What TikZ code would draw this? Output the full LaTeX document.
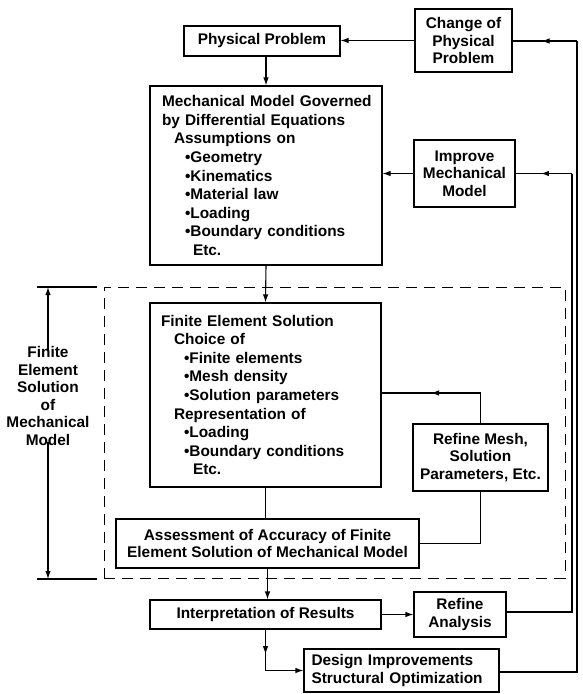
\documentclass[tikz,border=0pt]{standalone}
\usepackage{fontspec}
\setmainfont{Liberation Sans}
\usetikzlibrary{arrows.meta,decorations.markings}
\tikzset{
  box/.style={draw, line width=1.1pt, inner sep=0pt, align=center, font=\fontsize{15.4}{17.5}\selectfont\bfseries},
  bigbox/.style={box, align=left, font=\fontsize{15.4}{18.6}\selectfont\bfseries},
  conn/.style={line width=1.1pt},
  arr/.style={conn, -{Latex[length=8pt,width=5.5pt]}},
  midarr/.style={conn, postaction={decorate}, decoration={markings, mark=at position #1 with {\arrow{Latex[length=8pt,width=5.5pt]}}}},
  dbox/.style={draw, line width=1pt, dash pattern=on 11pt off 7pt, inner sep=0pt},
}
\begin{document}
\begin{tikzpicture}[x=1pt,y=-1pt]
\useasboundingbox (0,0) rectangle (583,694);
% boxes
\node[box, minimum width=156, minimum height=30] (phys) at (262,41) {Physical Problem};
\node[box, minimum width=97, minimum height=63] (chg) at (463.5,40.5) {Change of\\Physical\\Problem};
\node[bigbox, minimum width=232, minimum height=179, text width=208] (mech) at (266,175.5) {\mbox{Mechanical Model Governed}\\\mbox{by Differential Equations}\\\hspace*{12pt}Assumptions on\\\hspace*{23pt}•Geometry\\\hspace*{23pt}•Kinematics\\\hspace*{23pt}•Material law\\\hspace*{23pt}•Loading\\\hspace*{23pt}\mbox{•Boundary conditions}\\\hspace*{31pt}Etc.};
\node[box, minimum width=101, minimum height=67] (imp) at (464.5,173.5) {Improve\\Mechanical\\Model};
\node[dbox, minimum width=461, minimum height=291] (fem) at (334.5,432.5) {};
\node[bigbox, minimum width=231, minimum height=184, text width=209] (fe) at (265.5,395) {\mbox{Finite Element Solution}\\\hspace*{13pt}Choice of\\\hspace*{23pt}•Finite elements\\\hspace*{23pt}•Mesh density\\\hspace*{23pt}\mbox{•Solution parameters}\\\hspace*{13pt}Representation of\\\hspace*{23pt}•Loading\\\hspace*{23pt}\mbox{•Boundary conditions}\\\hspace*{32pt}Etc.};
\node[box, minimum width=135, minimum height=67] (rm) at (480.5,457.5) {Refine Mesh,\\Solution\\Parameters, Etc.};
\node[box, minimum width=303, minimum height=49] (asm) at (267.5,543.5) {Assessment of Accuracy of Finite\\Element Solution of Mechanical Model};
\node[box, minimum width=231, minimum height=29] (interp) at (265.5,614.5) {Interpretation of Results};
\node[box, minimum width=92, minimum height=45] (ra) at (460,614.5) {Refine\\Analysis};
\node[box, minimum width=195, minimum height=43, text width=180, align=left] (design) at (401.5,670.5) {Design Improvements\\Structural Optimization};
% left dimension label
\node[font=\fontsize{15.4}{17.5}\selectfont\bfseries, align=center, inner sep=0pt] (lbl) at (48,396) {Finite\\Element\\Solution\\of\\Mechanical\\Model};
\coordinate (tt1) at (37,287); \coordinate (tt2) at (97,287);
\coordinate (bt1) at (37,579); \coordinate (bt2) at (97,579);
\draw[conn] (tt1) -- (tt2);
\draw[conn] (bt1) -- (bt2);
\draw[arr] ([yshift=-4pt]lbl.north) -- (lbl.north |- tt1);
\draw[arr] ([yshift=4pt]lbl.south) -- (lbl.south |- bt1);
% main flow
\draw[arr] (mech.north |- phys.south) -- (mech.north);
\draw[arr] (chg.west) -- (chg.west -| phys.east);
\draw[arr] (mech.south) -- (fe.north);
\draw[conn] (fe.south) -- (fe.south |- asm.north);
\draw[arr] (asm.south) -- (asm.south |- interp.north);
\draw[arr] (interp.east) -- (ra.west);
\draw[arr] (imp.west) -- (imp.west -| mech.east);
% refine mesh loop
\coordinate (rmt) at (rm.north |- 0,393);
\draw[conn] (rm.north) -- (rmt);
\draw[midarr=0.5] (rmt) -- (rmt -| fe.east);
\draw[conn] (rm.south) |- (asm.east);
% interpretation to design
\coordinate (dc) at (interp.south |- design.west);
\draw[midarr=0.6] (interp.south) -- (dc);
\draw[arr] (dc) -- (design.west);
% right feedback lines
\coordinate (o1) at (577,672); \coordinate (o2) at (577,41);
\draw[conn] (design.east |- o1) -- (o1) -- (o2);
\draw[midarr=0.55] (o2) -- (o2 -| chg.east);
\coordinate (i1) at (572,612); \coordinate (i2) at (572,173.5);
\draw[conn] (ra.east |- i1) -- (i1) -- (i2);
\draw[midarr=0.55] (i2) -- (imp.east);
\end{tikzpicture}
\end{document}
